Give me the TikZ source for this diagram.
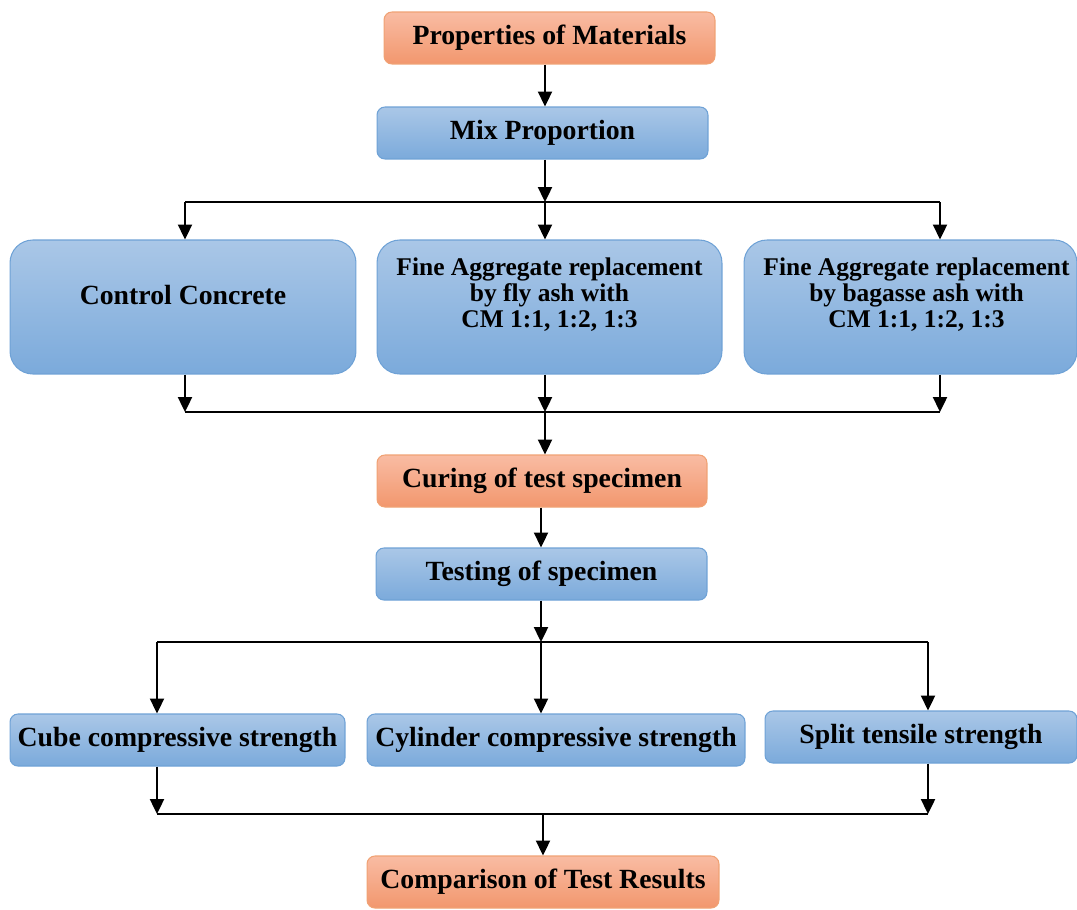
\documentclass[tikz,border=0pt]{standalone}
\usepackage{fontspec}
\setmainfont{Liberation Serif}
\usetikzlibrary{arrows.meta}
\definecolor{orgtop}{HTML}{F9BCA3}
\definecolor{orgbot}{HTML}{F2976E}
\definecolor{orgline}{HTML}{F0A274}
\definecolor{blutop}{HTML}{AAC7E7}
\definecolor{blubot}{HTML}{7BAADB}
\definecolor{bluline}{HTML}{6FA2D6}
\tikzset{
  box/.style = {rectangle, rounded corners=4.5pt, inner sep=0pt, minimum height=1.04cm, line width=0.6pt, font=\fontsize{15.8}{17}\selectfont\bfseries},
  orangebox/.style = {box, draw=orgline, top color=orgtop, bottom color=orgbot},
  bluebox/.style = {box, draw=bluline, top color=blutop, bottom color=blubot},
  bigbox/.style = {bluebox, rounded corners=13pt, minimum height=2.68cm},
  txt/.style = {align=center, inner sep=0pt, yshift=0.24cm, font=\fontsize{14.5}{14.8}\selectfont\bfseries},
  arrow/.style = {draw, line width=1.1pt, -{Triangle[width=8pt, length=8.5pt]}},
  link/.style = {draw, line width=1pt},
}
\begin{document}
\begin{tikzpicture}[x=0.02cm, y=-0.02cm]
  \useasboundingbox (0,0) rectangle (1077,909);

  \node (props) [orangebox, minimum width=6.62cm] at (549.5,38) {Properties of Materials};
  \node (mix) [bluebox, minimum width=6.62cm] at (542.5,133) {Mix Proportion};

  \node (cc) [bigbox, minimum width=6.92cm, label={[txt, font=\fontsize{15.8}{17}\selectfont\bfseries]center:{Control Concrete}}] at (183,307) {};
  \node (fly) [bigbox, minimum width=6.90cm, label={[txt]center:{Fine Aggregate replacement\\by fly ash with\\CM 1:1, 1:2, 1:3}}] at (549.5,307) {};
  \node (bag) [bigbox, minimum width=6.66cm, label={[txt, xshift=0.12cm]center:{Fine Aggregate replacement\\by bagasse ash with\\CM 1:1, 1:2, 1:3}}] at (910.5,307) {};

  \node (cure) [orangebox, minimum width=6.60cm] at (542,481) {Curing of test specimen};
  \node (test) [bluebox, minimum width=6.62cm] at (541.5,574) {Testing of specimen};

  \node (cube) [bluebox, minimum width=6.70cm] at (177.5,740) {Cube compressive strength};
  \node (cyl) [bluebox, minimum width=7.56cm] at (556,740) {Cylinder compressive strength};
  \node (split) [bluebox, minimum width=6.24cm] at (921,737) {Split tensile strength};

  \node (comp) [orangebox, minimum width=7.04cm] at (543,882) {Comparison of Test Results};

  % junctions
  \coordinate (j1) at (545,202);
  \coordinate (j1l) at (185,202);
  \coordinate (j1r) at (940,202);
  \coordinate (j2) at (545,412);
  \coordinate (j2l) at (185,412);
  \coordinate (j2r) at (940,412);
  \coordinate (j3) at (541,642);
  \coordinate (j3l) at (157,642);
  \coordinate (j3r) at (928,642);
  \coordinate (j4) at (543,814);
  \coordinate (j4l) at (157,814);
  \coordinate (j4r) at (928,814);

  \draw [arrow] (props.south -| j1) -- (mix.north -| j1);
  \draw [arrow] (mix.south -| j1) -- (j1);
  \draw [link] (j1l) -- (j1r);
  \draw [arrow] (j1l) -- (j1l |- cc.north);
  \draw [arrow] (j1) -- (j1 |- fly.north);
  \draw [arrow] (j1r) -- (j1r |- bag.north);

  \draw [arrow] (cc.south -| j2l) -- (j2l);
  \draw [arrow] (fly.south -| j2) -- (j2);
  \draw [arrow] (bag.south -| j2r) -- (j2r);
  \draw [link] (j2l) -- (j2r);
  \draw [arrow] (j2) -- (j2 |- cure.north);

  \draw [arrow] (cure.south -| j3) -- (test.north -| j3);
  \draw [arrow] (test.south -| j3) -- (j3);
  \draw [link] (j3l) -- (j3r);
  \draw [arrow] (j3l) -- (j3l |- cube.north);
  \draw [arrow] (j3) -- (j3 |- cyl.north);
  \draw [arrow] (j3r) -- (j3r |- split.north);

  \draw [arrow] (cube.south -| j4l) -- (j4l);
  \draw [arrow] (split.south -| j4r) -- (j4r);
  \draw [link] (j4l) -- (j4r);
  \draw [arrow] (j4) -- (j4 |- comp.north);

\end{tikzpicture}
\end{document}
